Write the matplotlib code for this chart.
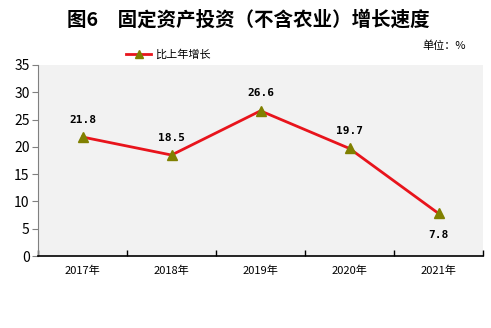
import matplotlib.pyplot as plt
from matplotlib.ticker import FixedLocator
from matplotlib.lines import Line2D

plt.rcParams['font.family'] = ['Noto Sans CJK SC', 'DejaVu Sans']

years = ['2017年', '2018年', '2019年', '2020年', '2021年']
growth = [21.8, 18.5, 26.6, 19.7, 7.8]
label_below = [False, False, False, False, True]
y_ticks = [0, 5, 10, 15, 20, 25, 30, 35]

fig = plt.figure(figsize=(4.91, 3.28), dpi=100)
ax = fig.add_axes([38 / 491, 1 - 256 / 328, 445 / 491, 191 / 328])
ax.set_facecolor('#f2f2f2')

x = list(range(len(years)))
ax.plot(x, growth, color='#e8141c', lw=2, marker='^', markersize=7,
        markerfacecolor='#808000', markeredgecolor='#808000', zorder=3)

for xi, v, below in zip(x, growth, label_below):
    off = -12 if below else 9
    ax.annotate(f'{v}', (xi, v), xytext=(0, off), textcoords='offset points',
                ha='center', va='bottom' if not below else 'top',
                fontsize=8, fontweight='bold', family='DejaVu Sans Mono')

ax.set_xlim(-0.5, len(years) - 0.5)
ax.set_ylim(0, 35)
ax.set_yticks(y_ticks)
ax.set_xticks(x)
ax.set_xticklabels(years, fontsize=8)
ax.tick_params(axis='x', which='major', length=0, pad=7)
ax.xaxis.set_minor_locator(FixedLocator([i - 0.5 for i in range(len(years) + 1)]))
ax.tick_params(axis='x', which='minor', direction='in', length=4, color='black', width=1)
ax.tick_params(axis='y', labelsize=10, length=4, color='#808080', pad=2)

for s in ['top', 'right']:
    ax.spines[s].set_visible(False)
ax.spines['left'].set_color('#808080')
ax.spines['bottom'].set_color('black')
ax.spines['bottom'].set_linewidth(1.2)

fig.text(248 / 491, 1 - 20 / 328, '图6　固定资产投资（不含农业）增长速度', ha='center', va='center',
         fontsize=14, fontweight='bold')
fig.text(444 / 491, 1 - 46 / 328, '单位：%', ha='center', va='center', fontsize=8)

handle = Line2D([], [], color='#e8141c', lw=2, marker='^', markersize=6,
                markerfacecolor='#808000', markeredgecolor='#808000')
fig.legend([handle], ['比上年增长'], loc='center left',
           bbox_to_anchor=(122 / 491, 1 - 55 / 328), frameon=False, fontsize=8,
           handlelength=2.2, handletextpad=0.4, borderaxespad=0)

fig.savefig('out.png', dpi=100)
